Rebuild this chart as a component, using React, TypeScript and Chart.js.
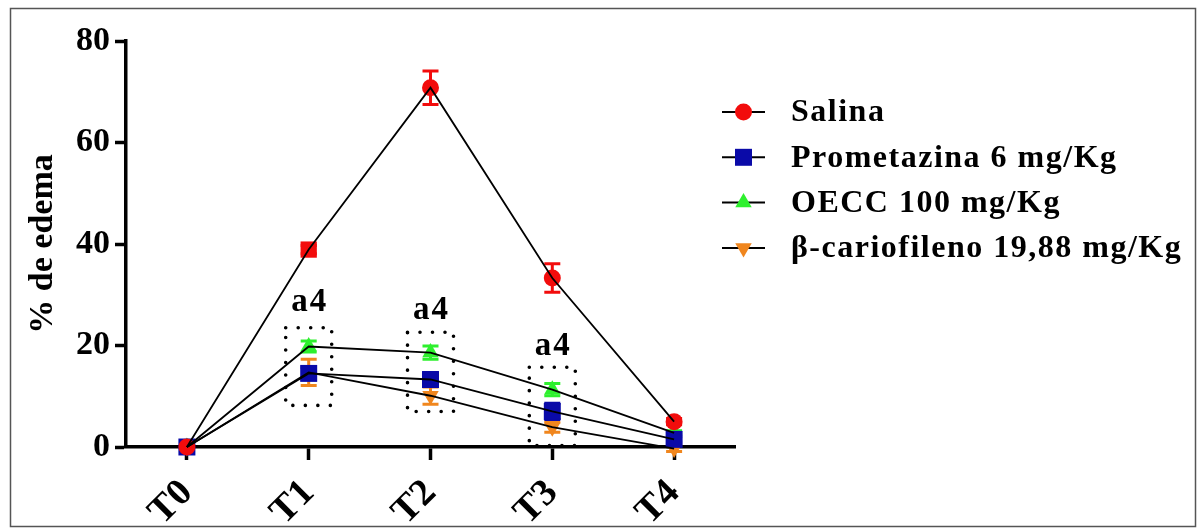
import { useEffect, useRef } from 'react';
import { Chart, registerables } from 'chart.js';

Chart.register(...registerables);

// ---- data ----
const categories = ['T0', 'T1', 'T2', 'T3', 'T4'];
const seriesNames = ['Salina', 'Prometazina 6 mg/Kg', 'OECC 100 mg/Kg', 'β-cariofileno 19,88 mg/Kg'];
const salina = [0, 38.9, 70.8, 33.3, 5.0];
const salinaErr = [0, 0.8, 3.3, 2.8, 0.6];
const prometazina = [0, 14.5, 13.3, 7.0, 1.5];
const prometazinaErr = [0, 1.2, 1.2, 1.6, 0.5];
const oecc = [0, 19.8, 18.6, 11.3, 2.8];
const oeccErr = [0, 1.1, 1.3, 1.2, 0.4];
const cario = [0, 14.7, 10.1, 3.9, -0.3];
const carioErr = [0, 2.6, 1.7, 1.0, 0.6];
const yTicks = [0, 20, 40, 60, 80];
const annotCategories = ['T1', 'T2', 'T3'];
const annotLabels = ['a4', 'a4', 'a4'];
const annotLabelValue = [28.5, 26.9, 19.8];
const annotBoxTop = [23.5, 22.6, 15.7];
const annotBoxBottom = [8.2, 7.0, 0.3];

// ---- styles ----
const FONT = '"Liberation Serif", "Times New Roman", serif';
const colors = ['#f20c0c', '#0a0aa8', '#2ef02e', '#f0861e'];
const styles: any[] = [
  { style: ['circle', 'rect', 'circle', 'circle', 'circle'], radius: [8.5, 11.5, 8.5, 8.5, 8.5], rotation: 0 },
  { style: 'rect', radius: 12, rotation: 0 },
  { style: 'triangle', radius: 9.5, rotation: 0 },
  { style: 'triangle', radius: 9.5, rotation: 180 },
];
const values = [salina, prometazina, oecc, cario];
const errors = [salinaErr, prometazinaErr, oeccErr, carioErr];

function drawMarker(ctx: CanvasRenderingContext2D, kind: string, x: number, y: number, r: number, rot: number, color: string) {
  ctx.save();
  ctx.fillStyle = color;
  ctx.beginPath();
  if (kind === 'circle') {
    ctx.arc(x, y, r, 0, Math.PI * 2);
  } else if (kind === 'rect') {
    const s = Math.SQRT1_2 * r;
    ctx.rect(x - s, y - s, 2 * s, 2 * s);
  } else {
    let a = (rot * Math.PI) / 180;
    ctx.moveTo(x + Math.sin(a) * r, y - Math.cos(a) * r);
    a += (2 * Math.PI) / 3;
    ctx.lineTo(x + Math.sin(a) * r, y - Math.cos(a) * r);
    a += (2 * Math.PI) / 3;
    ctx.lineTo(x + Math.sin(a) * r, y - Math.cos(a) * r);
    ctx.closePath();
  }
  ctx.fill();
  ctx.restore();
}

const errorBarPlugin = {
  id: 'errorBars',
  beforeDatasetsDraw(chart: any) {
    const { ctx, scales } = chart;
    const xs = scales.x;
    const ys = scales.y;
    ctx.save();
    ctx.lineWidth = 3;
    for (let s = values.length - 1; s >= 0; s--) {
      ctx.strokeStyle = colors[s];
      values[s].forEach((v, i) => {
        const e = errors[s][i];
        if (!e) return;
        const x = xs.getPixelForValue(i);
        const yTop = ys.getPixelForValue(v + e);
        const yBot = ys.getPixelForValue(v - e);
        ctx.beginPath();
        ctx.moveTo(x, yTop);
        ctx.lineTo(x, yBot);
        ctx.moveTo(x - 8, yTop);
        ctx.lineTo(x + 8, yTop);
        ctx.moveTo(x - 8, yBot);
        ctx.lineTo(x + 8, yBot);
        ctx.stroke();
      });
    }
    ctx.restore();
  },
};

const annotationPlugin = {
  id: 'annotations',
  afterDatasetsDraw(chart: any) {
    const { ctx, scales } = chart;
    const xs = scales.x;
    const ys = scales.y;
    ctx.save();
    annotCategories.forEach((c, k) => {
      const x = xs.getPixelForValue(categories.indexOf(c));
      const top = ys.getPixelForValue(annotBoxTop[k]);
      const bot = ys.getPixelForValue(annotBoxBottom[k]);
      ctx.strokeStyle = '#000';
      ctx.lineWidth = 3.6;
      ctx.lineCap = 'round';
      ctx.setLineDash([0, 12.5]);
      ctx.beginPath();
      ctx.rect(x - 23, top, 46, bot - top);
      ctx.stroke();
      ctx.setLineDash([]);
      ctx.fillStyle = '#000';
      ctx.font = `bold 33px ${FONT}`;
      (ctx as any).letterSpacing = '2px';
      ctx.textAlign = 'center';
      ctx.textBaseline = 'middle';
      ctx.fillText(annotLabels[k], x + 1, ys.getPixelForValue(annotLabelValue[k]));
      (ctx as any).letterSpacing = '0px';
    });
    ctx.restore();
  },
};

const legendPlugin = {
  id: 'customLegend',
  afterDraw(chart: any) {
    const { ctx } = chart;
    ctx.save();
    // outer frame
    ctx.strokeStyle = '#555';
    ctx.lineWidth = 1.5;
    ctx.strokeRect(10.5, 8.5, 1185, 518);
    const x0 = 722;
    const y0 = 112;
    const gap = 45.3;
    seriesNames.forEach((name, k) => {
      const y = y0 + k * gap;
      ctx.strokeStyle = '#000';
      ctx.lineWidth = 2;
      ctx.beginPath();
      ctx.moveTo(x0, y);
      ctx.lineTo(x0 + 43, y);
      ctx.stroke();
      const st = styles[k];
      const kind = Array.isArray(st.style) ? st.style[0] : st.style;
      const r = Array.isArray(st.radius) ? st.radius[0] : st.radius;
      drawMarker(ctx, kind, x0 + 21.5, y, r, st.rotation, colors[k]);
      ctx.fillStyle = '#000';
      ctx.font = `bold 32px ${FONT}`;
      (ctx as any).letterSpacing = '1.5px';
      ctx.textAlign = 'left';
      ctx.textBaseline = 'middle';
      ctx.fillText(name, 791, y + 1);
      (ctx as any).letterSpacing = '0px';
    });
    ctx.restore();
  },
};

export default function App() {
  const ref = useRef<HTMLCanvasElement>(null);

  useEffect(() => {
    if (!ref.current) return;
    const markerSets = values.map((data, k) => ({
      label: seriesNames[k],
      data,
      showLine: false,
      order: 1,
      clip: false as any,
      pointStyle: styles[k].style,
      pointRadius: styles[k].radius,
      pointRotation: styles[k].rotation,
      pointBackgroundColor: colors[k],
      pointBorderWidth: 0,
      borderColor: colors[k],
    }));
    const lineSets = values.map((data, k) => ({
      label: seriesNames[k] + ' line',
      data,
      order: 0,
      clip: false as any,
      borderColor: '#000',
      borderWidth: 1.8,
      pointRadius: 0,
      fill: false,
      tension: 0,
    }));
    const tickFont = { family: FONT, weight: 'bold' as const, size: 38 };
    const chart = new Chart(ref.current, {
      type: 'line',
      data: { labels: categories, datasets: [...lineSets, ...markerSets] as any },
      options: {
        animation: false,
        responsive: false,
        maintainAspectRatio: false,
        layout: { padding: { top: 41, right: 465, left: 0, bottom: 0 } },
        plugins: { legend: { display: false }, tooltip: { enabled: false } },
        scales: {
          x: {
            type: 'category',
            offset: true,
            grid: { display: true, drawOnChartArea: false, drawTicks: true, tickLength: 13, tickWidth: 3.5, tickColor: '#000', color: '#000' },
            border: { display: true, color: '#000', width: 3.5 },
            ticks: { color: '#000', font: tickFont, maxRotation: 45, minRotation: 45, padding: 11 },
            afterFit: (s: any) => { s.height = 81; },
          },
          y: {
            min: 0,
            max: 80,
            afterBuildTicks: (s: any) => { s.ticks = yTicks.map((v) => ({ value: v })); },
            grid: { display: true, drawOnChartArea: false, drawTicks: true, tickLength: 11, tickWidth: 3.5, tickColor: '#000', color: '#000' },
            border: { display: true, color: '#000', width: 3.5 },
            ticks: { color: '#000', font: { family: FONT, weight: 'bold', size: 34 }, padding: 5 },
            title: { display: true, text: '% de edema', color: '#000', font: { family: FONT, weight: 'bold', size: 34 }, padding: { top: 23, bottom: 0 } },
            afterFit: (s: any) => { s.width = 126; },
          },
        },
      },
      plugins: [errorBarPlugin, annotationPlugin, legendPlugin],
    });
    return () => chart.destroy();
  }, []);

  return (
    <div style={{ position: 'fixed', left: 0, top: 0, width: 1200, height: 528, background: '#fff' }}>
      <canvas ref={ref} width={1200} height={528} style={{ display: 'block', width: 1200, height: 528 }} />
    </div>
  );
}
